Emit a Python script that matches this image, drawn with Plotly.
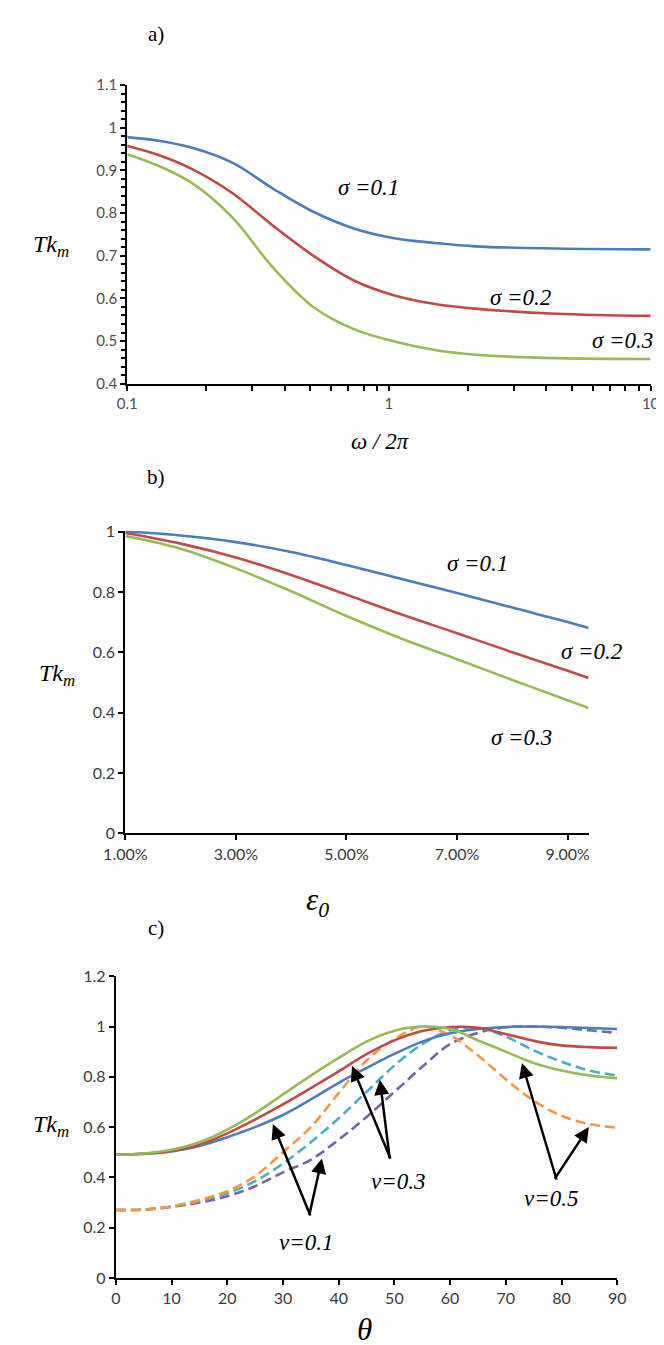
import plotly.graph_objects as go

# ---------------- data ----------------
# panel a: Tk_m vs omega/2pi (log axis)
omega = [0.1, 0.13, 0.177, 0.252, 0.361, 0.514, 0.734, 1.05, 1.5, 2.14, 4.36, 10]
a_sigma01 = [0.978, 0.970, 0.953, 0.918, 0.857, 0.803, 0.764, 0.741, 0.730, 0.722, 0.717, 0.715]
a_sigma02 = [0.957, 0.937, 0.903, 0.847, 0.770, 0.700, 0.642, 0.607, 0.587, 0.576, 0.564, 0.559]
a_sigma03 = [0.938, 0.912, 0.870, 0.790, 0.672, 0.580, 0.528, 0.499, 0.479, 0.468, 0.460, 0.458]
a_yticks = [0.4, 0.5, 0.6, 0.7, 0.8, 0.9, 1.0, 1.1]
a_yticktext = ["0.4", "0.5", "0.6", "0.7", "0.8", "0.9", "1", "1.1"]
a_xticks = [0.1, 1, 10]
a_xticktext = ["0.1", "1", "10"]
a_xminor = [0.2, 0.3, 0.4, 0.5, 0.6, 0.7, 0.8, 0.9, 2, 3, 4, 5, 6, 7, 8, 9]

# panel b: Tk_m vs eps0
eps0 = [0.01, 0.02, 0.03, 0.04, 0.05, 0.06, 0.07, 0.08, 0.09, 0.0938]
b_sigma01 = [1.0, 0.987, 0.965, 0.932, 0.889, 0.843, 0.796, 0.748, 0.700, 0.680]
b_sigma02 = [0.995, 0.960, 0.914, 0.856, 0.791, 0.725, 0.663, 0.600, 0.539, 0.515]
b_sigma03 = [0.985, 0.943, 0.878, 0.802, 0.720, 0.645, 0.577, 0.508, 0.441, 0.415]
b_xticks = [0.01, 0.03, 0.05, 0.07, 0.09]
b_yticks = [0, 0.2, 0.4, 0.6, 0.8, 1.0]
b_yticktext = ["0", "0.2", "0.4", "0.6", "0.8", "1"]

# panel c: Tk_m vs theta
theta = [0, 5, 10, 15, 20, 25, 30, 35, 40, 45, 50, 55, 60, 65, 70, 75, 80, 85, 90]
c_solid_blue = [0.49, 0.493, 0.503, 0.525, 0.56, 0.60, 0.648, 0.71, 0.776, 0.835, 0.891, 0.94, 0.973, 0.99, 0.998, 1.0, 0.998, 0.994, 0.99]
c_solid_red = [0.49, 0.495, 0.505, 0.53, 0.575, 0.63, 0.69, 0.755, 0.822, 0.89, 0.945, 0.982, 0.998, 0.995, 0.97, 0.943, 0.925, 0.918, 0.915]
c_solid_green = [0.49, 0.495, 0.51, 0.54, 0.59, 0.655, 0.73, 0.805, 0.875, 0.94, 0.983, 1.0, 0.99, 0.945, 0.90, 0.855, 0.825, 0.805, 0.795]
c_dash_orange = [0.27, 0.272, 0.285, 0.31, 0.345, 0.405, 0.50, 0.60, 0.735, 0.865, 0.95, 1.0, 0.965, 0.885, 0.79, 0.705, 0.645, 0.612, 0.598]
c_dash_teal = [0.27, 0.272, 0.284, 0.305, 0.337, 0.385, 0.455, 0.54, 0.635, 0.74, 0.845, 0.93, 0.985, 0.995, 0.96, 0.905, 0.86, 0.825, 0.805]
c_dash_purple = [0.27, 0.272, 0.283, 0.30, 0.325, 0.365, 0.42, 0.47, 0.55, 0.64, 0.74, 0.84, 0.93, 0.975, 0.997, 1.0, 0.995, 0.985, 0.975]
c_xticks = [0, 10, 20, 30, 40, 50, 60, 70, 80, 90]
c_yticks = [0, 0.2, 0.4, 0.6, 0.8, 1.0, 1.2]
c_yticktext = ["0", "0.2", "0.4", "0.6", "0.8", "1", "1.2"]

# ---------------- styles ----------------
BLUE = "#4A7EBB"
RED = "#BE4B48"
GREEN = "#98B954"
ORANGE = "#F79646"
TEAL = "#4BACC6"
PURPLE = "#7D60A0"
W, H = 664, 1345
SERIF = "Liberation Serif, Times New Roman, serif"
TICKFONT_A = dict(family="Lato, Carlito, sans-serif", size=15, color="#4d4d4d")
TICKFONT_BC = dict(family="Lato, Carlito, sans-serif", size=16, color="#3a3a3a")


def px(x):
    return x / W


def py(y):
    return 1 - y / H


fig = go.Figure()
LW = 2.6

# panel a
for ys, c in [(a_sigma01, BLUE), (a_sigma02, RED), (a_sigma03, GREEN)]:
    fig.add_trace(go.Scatter(x=omega, y=ys, mode="lines", line=dict(color=c, width=LW, shape="spline"),
                             xaxis="x", yaxis="y", hoverinfo="skip"))
# panel b
for ys, c in [(b_sigma01, BLUE), (b_sigma02, RED), (b_sigma03, GREEN)]:
    fig.add_trace(go.Scatter(x=eps0, y=ys, mode="lines", line=dict(color=c, width=LW, shape="spline"),
                             xaxis="x2", yaxis="y2", hoverinfo="skip"))
# panel c
for ys, c in [(c_dash_purple, PURPLE), (c_dash_teal, TEAL), (c_dash_orange, ORANGE)]:
    fig.add_trace(go.Scatter(x=theta, y=ys, mode="lines",
                             line=dict(color=c, width=LW, shape="spline", dash="10px,5px"),
                             xaxis="x3", yaxis="y3", hoverinfo="skip"))
for ys, c in [(c_solid_blue, BLUE), (c_solid_red, RED), (c_solid_green, GREEN)]:
    fig.add_trace(go.Scatter(x=theta, y=ys, mode="lines", line=dict(color=c, width=LW, shape="spline"),
                             xaxis="x3", yaxis="y3", hoverinfo="skip"))

axis_common = dict(showline=True, linecolor="black", linewidth=2, showgrid=False, zeroline=False,
                   ticks="outside", tickcolor="black", tickwidth=1.5, ticklen=5, mirror=False)

fig.update_layout(
    width=W, height=H, margin=dict(l=0, r=0, t=0, b=0),
    paper_bgcolor="white", plot_bgcolor="white", showlegend=False,
    xaxis=dict(axis_common, domain=[px(102), px(651)], anchor="y", type="log",
               range=[-1, 1], tickvals=a_xticks, ticktext=a_xticktext, tickfont=TICKFONT_A,
               minor=dict(tickvals=a_xminor, ticks="outside", ticklen=5, tickcolor="black", tickwidth=1.5)),
    yaxis=dict(axis_common, domain=[py(371), py(68)], anchor="x", range=[0.4, 1.1],
               tickvals=a_yticks, ticktext=a_yticktext, tickfont=TICKFONT_A,
               minor=dict(dtick=0.02, tick0=0.4, ticks="outside", ticklen=4, tickcolor="black", tickwidth=1.5)),
    xaxis2=dict(axis_common, domain=[px(100), px(586)], anchor="y2", range=[0.01, 0.0938],
                tickvals=b_xticks, tickformat=".2%", tickfont=TICKFONT_BC),
    yaxis2=dict(axis_common, domain=[py(827), py(520)], anchor="x2", range=[0, 1.003],
                tickvals=b_yticks, ticktext=b_yticktext, tickfont=TICKFONT_BC),
    xaxis3=dict(axis_common, domain=[px(90), px(616)], anchor="y3", range=[0, 90],
                tickvals=c_xticks, tickfont=TICKFONT_BC),
    yaxis3=dict(axis_common, domain=[py(1278), py(972)], anchor="x3", range=[0, 1.2],
                tickvals=c_yticks, ticktext=c_yticktext, tickfont=TICKFONT_BC),
)

ann = []


def text(x, y, t, size, italic=True, bold=False):
    s = f"<i>{t}</i>" if italic else t
    if bold:
        s = f"<b>{s}</b>"
    ann.append(dict(x=px(x), y=py(y), xref="paper", yref="paper", text=s,
                    showarrow=False, xanchor="center", yanchor="middle",
                    font=dict(family=SERIF, size=size, color="black")))


# panel labels
text(132, 16, "a)", 21, italic=False)
text(132, 466, "b)", 21, italic=False)
text(132, 923, "c)", 21, italic=False)
# y titles
text(22, 231, "Tk<sub>m</sub>", 24)
text(28, 666, "Tk<sub>m</sub>", 24)
text(22, 1124, "Tk<sub>m</sub>", 24)
# x titles
text(368, 430, "ω / 2π", 23)
text(302, 897, "ε<sub>0</sub>", 31)
text(351, 1330, "θ", 31)
# sigma labels
text(355, 172, "σ =0.1", 23)
text(514, 283, "σ =0.2", 23)
text(621, 327, "σ =0.3", 23)
text(469, 553, "σ =0.1", 23)
text(589, 643, "σ =0.2", 23)
text(516, 730, "σ =0.3", 23)
# v labels
text(289, 1242, "v=0.1", 23)
text(386, 1180, "v=0.3", 23)
text(546, 1197, "v=0.5", 23)

# arrows in panel c (head at data point, tail offset in pixels)
arrow_heads_x = [28.2, 37.0, 42.4, 47.4, 72.9, 84.9]
arrow_heads_y = [0.612, 0.475, 0.843, 0.788, 0.855, 0.600]
arrow_tail_dx = [38, -13, 39, 10, 35, -35]
arrow_tail_dy = [93, 58, 94, 80, 118, 53]
for hx, hy, dx, dy in zip(arrow_heads_x, arrow_heads_y, arrow_tail_dx, arrow_tail_dy):
    ann.append(dict(x=hx, y=hy, xref="x3", yref="y3", ax=dx, ay=dy, text="", showarrow=True,
                    arrowhead=2, arrowsize=1.2, arrowwidth=2.5, arrowcolor="black"))

fig.update_layout(annotations=ann)
fig.write_html("out.html")
